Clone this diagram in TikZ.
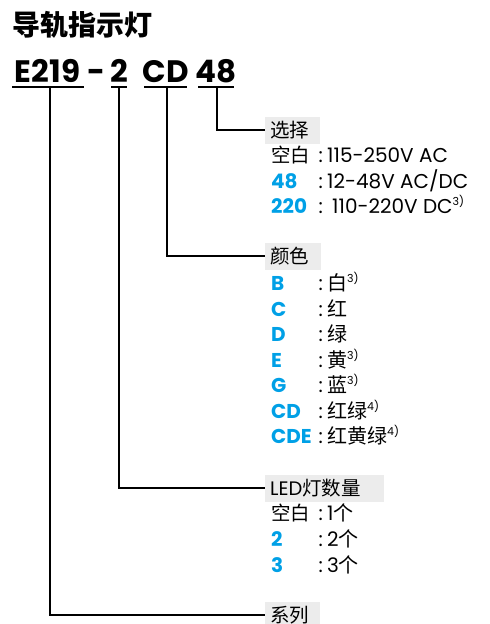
\documentclass[tikz,border=0pt]{standalone}
\usepackage{fontspec}
\setmainfont{Poppins}
\newfontfamily\cjk{Noto Sans CJK SC}
\definecolor{abbblue}{RGB}{0,160,230}
\definecolor{boxgray}{RGB}{236,236,236}
\newcommand\sups[1]{\raisebox{8pt}{\fontsize{11}{11}\selectfont #1}}
\tikzset{
  body/.style={inner sep=0pt, anchor=base west, font=\fontsize{20}{20}\selectfont},
  key/.style={body, text=abbblue, font=\bfseries\fontsize{20}{20}\selectfont},
  code/.style={inner sep=0pt, anchor=base, font=\bfseries\fontsize{31}{31}\selectfont},
  lbl/.style={fill=boxgray, anchor=west, minimum height=27pt, inner xsep=5pt, inner ysep=0pt, align=left, font=\cjk\fontsize{19.5}{19.5}\selectfont},
  conn/.style={line width=2pt},
}
\begin{document}
\begin{tikzpicture}[x=1pt,y=-1pt]
\useasboundingbox (0,0) rectangle (490,624);
% title
\node[inner sep=0pt, anchor=base west, font=\cjk\bfseries\fontsize{28}{28}\selectfont] (title) at (12,35) {导轨指示灯};
% code row
\node[code] (cE) at (47.5,82) {E219};
\node[code] (cdash) at (96.5,82) {-};
\node[code] (c2) at (119,82) {2};
\node[code] (cCD) at (165.5,82) {CD};
\node[code] (c48) at (216,82) {48};
% underlines
\coordinate (uEa) at (12,87); \coordinate (uEb) at (84,87); \coordinate (uE) at (50,87);
\coordinate (u2a) at (111,87); \coordinate (u2b) at (127,87); \coordinate (u2) at (119,87);
\coordinate (uCa) at (144,87); \coordinate (uCb) at (187,87); \coordinate (uC) at (167,87);
\coordinate (u4a) at (198,87); \coordinate (u4b) at (234,87); \coordinate (u4) at (217,87);
\draw[conn] (uEa) -- (uEb);
\draw[conn] (u2a) -- (u2b);
\draw[conn] (uCa) -- (uCb);
\draw[conn] (u4a) -- (u4b);
% label boxes
\node[lbl, text width=45pt] (sel) at (265,130) {选择};
\node[lbl, text width=46pt] (col) at (265,256) {颜色};
\node[lbl, text width=109pt] (led) at (265,488) {{\fontspec{Poppins}LED}灯数量};
\node[lbl, text width=45pt] (sys) at (265,615) {系列};
% connectors
\draw[conn] (u4) |- (sel.west);
\draw[conn] (uC) |- (col.west);
\draw[conn] (u2) |- (led.west);
\draw[conn] (uE) |- (sys.west);
% select items
\node[body, font=\cjk\fontsize{19.5}{19.5}\selectfont] (s1k) at (271,162.5) {空白};
\node[body] (s1c) at (318.5,162.5) {:};
\node[body] (s1v) at (327,162.5) {115-250V AC};
\node[key] (s2k) at (271,188) {48};
\node[body] (s2c) at (318.5,188) {:};
\node[body] (s2v) at (327,188) {12-48V AC/DC};
\node[key] (s3k) at (271,213.5) {220};
\node[body] (s3c) at (318.5,213.5) {:};
\node[body] (s3v) at (332,213.5) {110-220V DC\sups{3)}};
% colour items
\node[key] (k1) at (271,290) {B};
\node[body] (k1c) at (318.5,290) {:};
\node[body] (k1v) at (327,290) {{\cjk 白}\sups{3)}};
\node[key] (k2) at (271,316) {C};
\node[body] (k2c) at (318.5,316) {:};
\node[body] (k2v) at (327,316) {{\cjk 红}};
\node[key] (k3) at (271,341.5) {D};
\node[body] (k3c) at (318.5,341.5) {:};
\node[body] (k3v) at (327,341.5) {{\cjk 绿}};
\node[key] (k4) at (271,367) {E};
\node[body] (k4c) at (318.5,367) {:};
\node[body] (k4v) at (327,367) {{\cjk 黄}\sups{3)}};
\node[key] (k5) at (271,392.5) {G};
\node[body] (k5c) at (318.5,392.5) {:};
\node[body] (k5v) at (327,392.5) {{\cjk 蓝}\sups{3)}};
\node[key] (k6) at (271,418) {CD};
\node[body] (k6c) at (318.5,418) {:};
\node[body] (k6v) at (327,418) {{\cjk 红绿}\sups{4)}};
\node[key] (k7) at (271,443.5) {CDE};
\node[body] (k7c) at (318.5,443.5) {:};
\node[body] (k7v) at (327,443.5) {{\cjk 红黄绿}\sups{4)}};
% LED count items
\node[body, font=\cjk\fontsize{19.5}{19.5}\selectfont] (n1k) at (271,520.5) {空白};
\node[body] (n1c) at (318.5,520.5) {:};
\node[body] (n1v) at (327,520.5) {1{\cjk 个}};
\node[key] (n2k) at (271,546.5) {2};
\node[body] (n2c) at (318.5,546.5) {:};
\node[body] (n2v) at (327,546.5) {2{\cjk 个}};
\node[key] (n3k) at (271,572) {3};
\node[body] (n3c) at (318.5,572) {:};
\node[body] (n3v) at (327,572) {3{\cjk 个}};
\end{tikzpicture}
\end{document}
